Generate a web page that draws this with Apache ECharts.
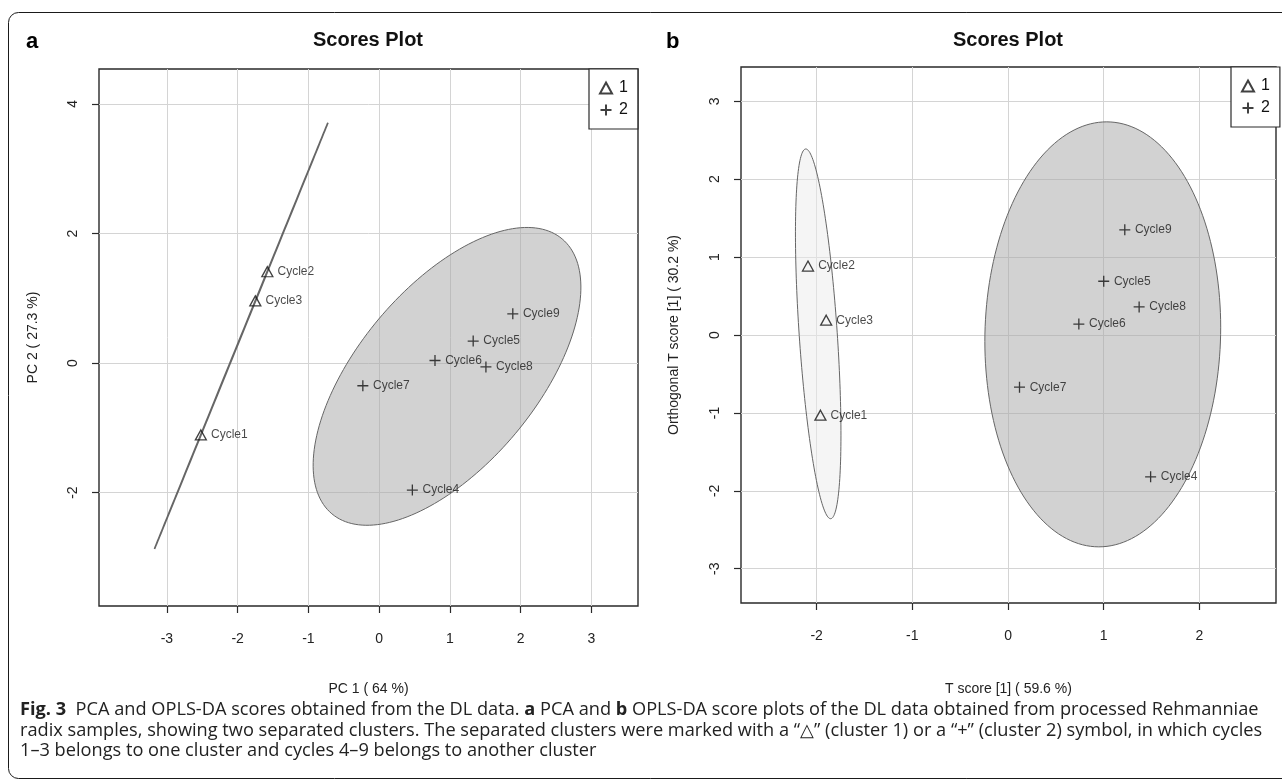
<!DOCTYPE html>
<html>
<head>
<meta charset="utf-8">
<script src="https://cdn.jsdelivr.net/npm/echarts@6/dist/echarts.min.js"></script>
<style>
  html, body { margin: 0; padding: 0; background: #ffffff; }
  #chart { width: 1282px; height: 780px; }
</style>
</head>
<body>
<div id="chart"></div>
<script>
// Sample names per cluster
const namesCluster1 = ['Cycle1', 'Cycle2', 'Cycle3'];
const namesCluster2 = ['Cycle4', 'Cycle5', 'Cycle6', 'Cycle7', 'Cycle8', 'Cycle9'];

// PCA scores (panel a)
const pcaPC1Cluster1 = [-2.52, -1.58, -1.75];
const pcaPC2Cluster1 = [-1.11, 1.41, 0.96];
const pcaPC1Cluster2 = [0.47, 1.33, 0.79, -0.23, 1.51, 1.89];
const pcaPC2Cluster2 = [-1.96, 0.34, 0.04, -0.35, -0.06, 0.76];

// OPLS-DA scores (panel b)
const oplsTCluster1 = [-1.96, -2.09, -1.90];
const oplsOrthCluster1 = [-1.03, 0.885, 0.19];
const oplsTCluster2 = [1.49, 1.00, 0.74, 0.12, 1.37, 1.22];
const oplsOrthCluster2 = [-1.82, 0.69, 0.14, -0.67, 0.36, 1.35];

// Tick values
const pcaXTicks = [-3, -2, -1, 0, 1, 2, 3];
const pcaYTicks = [-2, 0, 2, 4];
const oplsXTicks = [-2, -1, 0, 1, 2];
const oplsYTicks = [-3, -2, -1, 0, 1, 2, 3];

// Confidence level of the group ellipses
const ellipseLevel = 0.95;

// Data ellipse (as in R's ellipse::ellipse) built from a group's covariance
function confidenceEllipse(xs, ys, level, steps) {
  const n = xs.length;
  const mx = xs.reduce((a, b) => a + b, 0) / n;
  const my = ys.reduce((a, b) => a + b, 0) / n;
  let sxx = 0, syy = 0, sxy = 0;
  for (let i = 0; i < n; i++) {
    sxx += (xs[i] - mx) * (xs[i] - mx);
    syy += (ys[i] - my) * (ys[i] - my);
    sxy += (xs[i] - mx) * (ys[i] - my);
  }
  const sx = Math.sqrt(sxx / (n - 1));
  const sy = Math.sqrt(syy / (n - 1));
  const r = Math.max(-1, Math.min(1, (sxy / (n - 1)) / (sx * sy)));
  const d = Math.acos(r);
  const t = Math.sqrt(-2 * Math.log(1 - level)); // sqrt(qchisq(level, 2))
  const pts = [];
  for (let i = 0; i < steps; i++) {
    const a = 2 * Math.PI * i / steps;
    pts.push([mx + t * sx * Math.cos(a + d / 2), my + t * sy * Math.cos(a - d / 2)]);
  }
  return pts;
}

function zip(xs, ys, names) {
  return xs.map((x, i) => ({ value: [x, ys[i]], name: names[i] }));
}

const FONT = '"Liberation Sans", Arial, Helvetica, sans-serif';
const TRIANGLE = 'path://M5,0L10,9L0,9Z';
const PLUS = 'path://M0,5L10,5M5,0L5,10';

const gridBase = {
  show: true,
  borderColor: '#2a2a2a',
  borderWidth: 1.4,
  backgroundColor: 'transparent'
};

function valueAxis(gridIndex, min, max, ticks, name, isY, nameGap) {
  return {
    type: 'value',
    gridIndex: gridIndex,
    min: min,
    max: max,
    name: name,
    nameLocation: 'middle',
    nameGap: nameGap,
    nameTextStyle: { fontFamily: FONT, fontSize: 14, color: '#222' },
    axisLine: { show: false, onZero: false },
    axisTick: { show: true, inside: false, length: 7, customValues: ticks, lineStyle: { color: '#2a2a2a', width: 1.2 } },
    axisLabel: {
      customValues: ticks,
      fontFamily: FONT,
      fontSize: 14,
      color: '#222',
      margin: isY ? 19 : 26,
      rotate: isY ? 90 : 0
    },
    splitLine: { show: true, lineStyle: { color: '#d4d4d4', width: 1 } }
  };
}

function ellipseSeries(xAxisIndex, yAxisIndex, pts, fill, stroke, lineWidth) {
  return {
    type: 'custom',
    xAxisIndex: xAxisIndex,
    yAxisIndex: yAxisIndex,
    z: 1,
    silent: true,
    data: [pts[0]],
    renderItem: function (params, api) {
      return {
        type: 'polygon',
        shape: { points: pts.map(p => api.coord(p)) },
        style: { fill: fill, stroke: stroke, lineWidth: lineWidth }
      };
    }
  };
}

function scoreSeries(name, xAxisIndex, yAxisIndex, data, symbol, size) {
  return {
    name: name,
    type: 'scatter',
    xAxisIndex: xAxisIndex,
    yAxisIndex: yAxisIndex,
    z: 5,
    symbol: symbol,
    symbolSize: size,
    itemStyle: { color: 'rgba(0,0,0,0)', borderColor: '#111', borderWidth: 1.3 },
    label: {
      show: true,
      position: 'right',
      distance: 4,
      formatter: p => p.name,
      fontFamily: FONT,
      fontSize: 12,
      color: '#1a1a1a'
    },
    data: data
  };
}

const fillCluster1 = 'rgba(236,236,236,0.5)';
const fillCluster2 = 'rgba(165,165,165,0.5)';
const ellipseStroke = '#666666';

const pcaEllipse1 = confidenceEllipse(pcaPC1Cluster1, pcaPC2Cluster1, ellipseLevel, 180);
const pcaEllipse2 = confidenceEllipse(pcaPC1Cluster2, pcaPC2Cluster2, ellipseLevel, 180);
const oplsEllipse1 = confidenceEllipse(oplsTCluster1, oplsOrthCluster1, ellipseLevel, 180);
const oplsEllipse2 = confidenceEllipse(oplsTCluster2, oplsOrthCluster2, ellipseLevel, 180);

const legendBase = {
  orient: 'vertical',
  data: ['1', '2'],
  selectedMode: false,
  itemWidth: 12,
  itemHeight: 11,
  itemGap: 6,
  padding: [11, 10, 11, 10],
  borderColor: '#2a2a2a',
  borderWidth: 1.2,
  borderRadius: 0,
  backgroundColor: '#fff',
  textStyle: { fontFamily: FONT, fontSize: 16, color: '#111', padding: [0, 0, 0, 2] }
};

const captionLines = [
  '{b|Fig. 3}  PCA and OPLS-DA scores obtained from the DL data. {b|a} PCA and {b|b} OPLS-DA score plots of the DL data obtained from processed Rehmanniae',
  'radix samples, showing two separated clusters. The separated clusters were marked with a \u201c\u25b3\u201d (cluster 1) or a \u201c+\u201d (cluster 2) symbol, in which cycles',
  '1\u20133 belongs to one cluster and cycles 4\u20139 belongs to another cluster'
];
const CAP_FONT = '"Open Sans", "Noto Sans", sans-serif';
const CAP_SIZE = 18.2;

const option = {
  animation: false,
  backgroundColor: '#ffffff',
  grid: [
    Object.assign({ left: 99, top: 69, width: 539, height: 537 }, gridBase),
    Object.assign({ left: 741, top: 67, width: 535, height: 536 }, gridBase)
  ],
  xAxis: [
    valueAxis(0, -3.96, 3.66, pcaXTicks, 'PC 1 ( 64 %)', false, 76),
    valueAxis(1, -2.79, 2.80, oplsXTicks, 'T score [1] ( 59.6 %)', false, 79)
  ],
  yAxis: [
    valueAxis(0, -3.75, 4.54, pcaYTicks, 'PC 2 ( 27.3 %)', true, 59),
    valueAxis(1, -3.44, 3.44, oplsYTicks, 'Orthogonal T score [1] ( 30.2 %)', true, 60)
  ],
  legend: [
    Object.assign({ left: 589, top: 69 }, legendBase),
    Object.assign({ left: 1231, top: 67 }, legendBase)
  ],
  series: [
    ellipseSeries(0, 0, pcaEllipse1, fillCluster1, ellipseStroke, 1.7),
    ellipseSeries(0, 0, pcaEllipse2, fillCluster2, ellipseStroke, 1),
    ellipseSeries(1, 1, oplsEllipse1, fillCluster1, ellipseStroke, 1),
    ellipseSeries(1, 1, oplsEllipse2, fillCluster2, ellipseStroke, 1),
    scoreSeries('1', 0, 0, zip(pcaPC1Cluster1, pcaPC2Cluster1, namesCluster1), TRIANGLE, [11, 10]),
    scoreSeries('2', 0, 0, zip(pcaPC1Cluster2, pcaPC2Cluster2, namesCluster2), PLUS, 11),
    scoreSeries('1', 1, 1, zip(oplsTCluster1, oplsOrthCluster1, namesCluster1), TRIANGLE, [11, 10]),
    scoreSeries('2', 1, 1, zip(oplsTCluster2, oplsOrthCluster2, namesCluster2), PLUS, 11)
  ],
  graphic: [
    {
      type: 'rect',
      shape: { x: 8.5, y: 12.5, width: 1300, height: 766, r: 10 },
      style: { fill: 'none', stroke: '#1a1a1a', lineWidth: 1 },
      silent: true
    },
    { type: 'text', x: 26, y: 31, style: { text: 'a', font: 'bold 22px ' + FONT, fill: '#000' } },
    { type: 'text', x: 666, y: 31, style: { text: 'b', font: 'bold 22px ' + FONT, fill: '#000' } },
    { type: 'text', x: 368, y: 30, style: { text: 'Scores Plot', font: 'bold 20px ' + FONT, fill: '#111', align: 'center' } },
    { type: 'text', x: 1008, y: 30, style: { text: 'Scores Plot', font: 'bold 20px ' + FONT, fill: '#111', align: 'center' } }
  ].concat(captionLines.map((line, i) => ({
    type: 'text',
    x: 20,
    y: 710 + i * 20.5,
    style: {
      text: line,
      fontFamily: CAP_FONT,
      fontSize: CAP_SIZE,
      fill: '#222',
      verticalAlign: 'middle',
      rich: { b: { fontFamily: CAP_FONT, fontSize: CAP_SIZE, fontWeight: 'bold', fill: '#222' } }
    }
  })))
};

const chart = echarts.init(document.getElementById('chart'), null, { renderer: 'canvas' });
chart.setOption(option);
</script>
</body>
</html>
